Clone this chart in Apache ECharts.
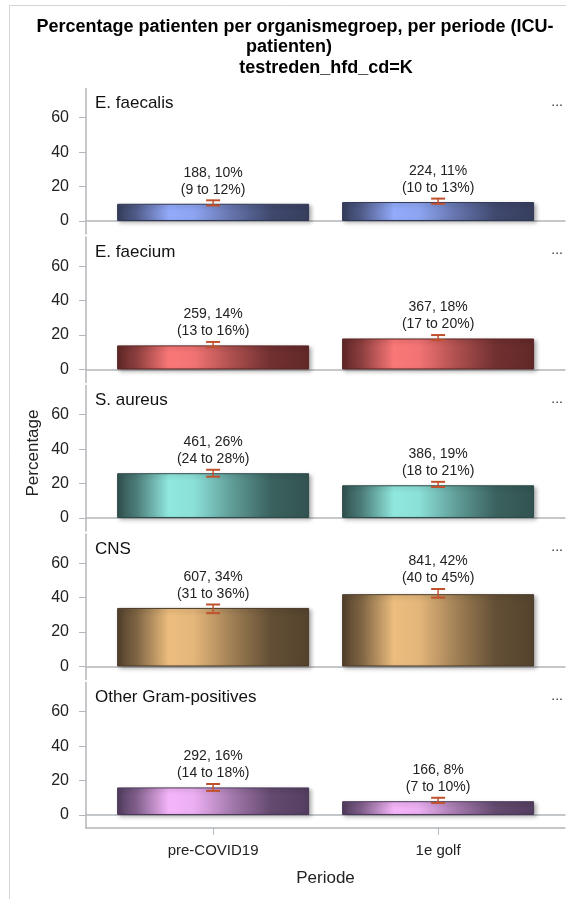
<!DOCTYPE html>
<html>
<head>
<meta charset="utf-8">
<script src="https://cdn.jsdelivr.net/npm/echarts@6/dist/echarts.min.js"></script>
<style>
  html, body { margin: 0; padding: 0; background: #fff; }
  #chart { width: 566px; height: 899px; }
</style>
</head>
<body>
<div id="chart"></div>
<script>
// Periods on the x axis and organism groups (one panel each)
const periods = ['pre-COVID19', '1e golf'];
const groups = ['E. faecalis', 'E. faecium', 'S. aureus', 'CNS', 'Other Gram-positives'];

// Number of patients, percentage and 95% interval per group and period
const counts   = [[188, 224], [259, 367], [461, 386], [607, 841], [292, 166]];
const percents = [[10, 11], [14, 18], [26, 19], [34, 42], [16, 8]];
const ciLower  = [[9, 10], [13, 17], [24, 18], [31, 40], [14, 7]];
const ciUpper  = [[12, 13], [16, 20], [28, 21], [36, 45], [18, 10]];

// Tick labels on each percentage axis
const yTicks = [0, 20, 40, 60];

// ---- layout ----
const FONT = '"Liberation Sans", Arial, Helvetica, sans-serif';
const gridLeft = 86, gridWidth = 479;
const panelTop0 = 88.4, panelStep = 148.5, panelHeight = 145.5;
const yMin = -7.5, yMax = 77;
const xMin = 0.435, xMax = 2.564;
const errColor = '#c0512d';
const axisGray = '#b3b6ba';

// dark edge / bright sheen per group
const shades = [
  { dark: '#323956', light: '#95adff' },
  { dark: '#5a2424', light: '#ff7a7a' },
  { dark: '#2d4b49', light: '#93ede4' },
  { dark: '#4c3c29', light: '#f1c181' },
  { dark: '#4b3858', light: '#fab9ff' }
];

function mix(a, b, t) {
  const pa = [1, 3, 5].map(i => parseInt(a.substr(i, 2), 16));
  const pb = [1, 3, 5].map(i => parseInt(b.substr(i, 2), 16));
  const c = pa.map((v, i) => Math.round(v + (pb[i] - v) * t));
  return 'rgb(' + c.join(',') + ')';
}
const sheenProfile = [[0, 0.04], [0.1, 0.3], [0.27, 0.97], [0.4, 0.92], [0.6, 0.5], [0.8, 0.14], [1, 0.05]];
function barGradient(s) {
  return new echarts.graphic.LinearGradient(0, 0, 1, 0,
    sheenProfile.map(([o, t]) => ({ offset: o, color: mix(s.dark, s.light, t) })));
}

const grids = [], xAxes = [], yAxes = [], series = [], graphics = [];
const last = groups.length - 1;

groups.forEach((name, g) => {
  const top = panelTop0 + g * panelStep;
  grids.push({ left: gridLeft, width: gridWidth, top: top, height: panelHeight, outerBoundsMode: 'none', containLabel: false });

  // zero line of each panel
  xAxes.push({
    type: 'value', gridIndex: g, min: xMin, max: xMax, position: 'bottom',
    axisLine: { show: true, onZero: true, lineStyle: { color: axisGray, width: 1.5 } },
    axisTick: { show: false }, axisLabel: { show: false }, splitLine: { show: false }
  });

  yAxes.push({
    type: 'value', gridIndex: g, min: yMin, max: yMax,
    axisLine: { show: true, onZero: false, lineStyle: { color: axisGray, width: 1.5 } },
    axisTick: { show: true, length: 7, customValues: yTicks, lineStyle: { color: axisGray } },
    axisLabel: { show: true, customValues: yTicks, fontSize: 16, fontFamily: FONT, color: '#222', margin: 17 },
    splitLine: { show: false }
  });

  const s = shades[g];
  series.push({
    type: 'bar', xAxisIndex: g, yAxisIndex: g, barWidth: 192,
    data: periods.map((p, i) => ({ value: [i + 1, percents[g][i]] })),
    itemStyle: {
      color: barGradient(s), borderColor: s.dark, borderWidth: 1,
      shadowColor: 'rgba(0,0,0,0.3)', shadowBlur: 4, shadowOffsetX: 2, shadowOffsetY: 2
    },
    silent: true, z: 2
  });

  series.push({
    type: 'custom', xAxisIndex: g, yAxisIndex: g, z: 5, silent: true,
    data: periods.map((p, i) => [i + 1, ciLower[g][i], ciUpper[g][i]]),
    renderItem: (params, api) => {
      const i = params.dataIndex;
      const x = api.value(0);
      const lo = api.coord([x, api.value(1)]);
      const hi = api.coord([x, api.value(2)]);
      const hw = 7;
      const txt = counts[g][i] + ', ' + percents[g][i] + '%\n(' + ciLower[g][i] + ' to ' + ciUpper[g][i] + '%)';
      return {
        type: 'group',
        children: [
          { type: 'line', shape: { x1: lo[0], y1: lo[1], x2: hi[0], y2: hi[1] }, style: { stroke: errColor, lineWidth: 1.5 } },
          { type: 'line', shape: { x1: lo[0] - hw, y1: lo[1], x2: lo[0] + hw, y2: lo[1] }, style: { stroke: errColor, lineWidth: 2 } },
          { type: 'line', shape: { x1: hi[0] - hw, y1: hi[1], x2: hi[0] + hw, y2: hi[1] }, style: { stroke: errColor, lineWidth: 2 } },
          { type: 'text', style: { text: txt, x: hi[0], y: hi[1] - 2, align: 'center', verticalAlign: 'bottom',
              fontSize: 14, fontFamily: FONT, fill: '#222', lineHeight: 17 } }
        ]
      };
    }
  });

  // panel header and overflow marker
  graphics.push({ type: 'text', left: 95, top: top + 16.6 - 10, style: { text: name, fontSize: 17, fontFamily: FONT, fill: '#111' } });
  graphics.push({ type: 'text', right: 3, top: top + 16.6 - 10, style: { text: '...', fontSize: 14, fontFamily: FONT, fill: '#333' } });
});

// x axis with period labels under the last panel
xAxes.push({
  type: 'value', gridIndex: last, min: xMin, max: xMax, position: 'bottom',
  axisLine: { show: true, onZero: false, lineStyle: { color: axisGray, width: 1.5 } },
  axisTick: { show: true, length: 7, customValues: [1, 2], lineStyle: { color: axisGray } },
  axisLabel: { show: true, customValues: [1, 2], formatter: v => periods[Math.round(v) - 1] || '',
    fontSize: 15, fontFamily: FONT, color: '#222', margin: 15 },
  splitLine: { show: false },
  name: 'Periode', nameLocation: 'middle', nameGap: 42,
  nameTextStyle: { fontSize: 17, fontFamily: FONT, color: '#222' }
});

// outer frame, titles and the shared y axis name
graphics.push(
  { type: 'line', shape: { x1: 9.5, y1: 5.5, x2: 9.5, y2: 899 }, style: { stroke: '#d4d4d4', lineWidth: 1 }, silent: true },
  { type: 'line', shape: { x1: 9.5, y1: 5.5, x2: 566, y2: 5.5 }, style: { stroke: '#d4d4d4', lineWidth: 1 }, silent: true },
  { type: 'text', x: 295, y: 27, style: { text: 'Percentage patienten per organismegroep, per periode (ICU-', align: 'center', verticalAlign: 'middle',
      fontSize: 18, fontWeight: 'bold', fontFamily: FONT, fill: '#000' } },
  { type: 'text', x: 289, y: 47, style: { text: 'patienten)', align: 'center', verticalAlign: 'middle',
      fontSize: 18, fontWeight: 'bold', fontFamily: FONT, fill: '#000' } },
  { type: 'text', x: 326, y: 68, style: { text: 'testreden_hfd_cd=K', align: 'center', verticalAlign: 'middle',
      fontSize: 18, fontWeight: 'bold', fontFamily: FONT, fill: '#000' } },
  { type: 'text', x: 33, y: 453, rotation: Math.PI / 2, style: { text: 'Percentage', align: 'center', verticalAlign: 'middle',
      fontSize: 17, fontFamily: FONT, fill: '#222' } }
);

const chart = echarts.init(document.getElementById('chart'), null, { renderer: 'canvas' });
chart.setOption({
  animation: false,
  backgroundColor: '#fff',
  grid: grids,
  xAxis: xAxes,
  yAxis: yAxes,
  series: series,
  graphic: graphics
});
</script>
</body>
</html>
